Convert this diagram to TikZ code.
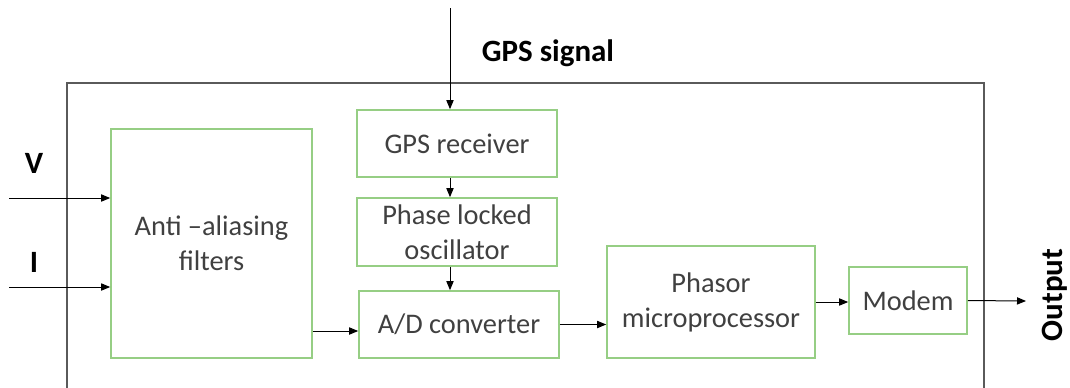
\documentclass[tikz,border=0pt]{standalone}
\usepackage{fontspec}
\setmainfont{Carlito}
\usetikzlibrary{arrows.meta}
\definecolor{boxgreen}{RGB}{150,206,132}
\definecolor{boxtext}{RGB}{64,64,64}
\definecolor{framegray}{RGB}{90,90,90}

\begin{document}
\begin{tikzpicture}[x=0.5pt, y=-0.5pt, font=\fontsize{14.2}{17.5}\selectfont,
  blk/.style={draw=boxgreen, line width=0.8pt, rectangle, align=center, text=boxtext, inner sep=2pt},
  lbl/.style={font=\fontsize{15.5}{18}\selectfont\bfseries, text=black, inner sep=0pt},
  sig/.style={-{Triangle[length=4.5pt, width=3.6pt]}, line width=0.5pt},
  frame/.style={draw=framegray, line width=0.8pt, rectangle, minimum width=458.5pt, minimum height=158.5pt}]
\useasboundingbox (0,0) rectangle (1070,387);
\clip (0,0) rectangle (1070,387);
\node[frame] (pmu) at (525.5,241.5) {};
\node[blk, minimum width=100.5pt, minimum height=114.5pt] (aa) at (211.5,243.5) {Anti \textendash aliasing\\filters};
\node[blk, minimum width=100pt, minimum height=33.5pt] (rx) at (457,143.5) {GPS receiver};
\node[blk, minimum width=100pt, minimum height=34pt] (plo) at (457,232) {Phase locked\\oscillator};
\node[blk, minimum width=100pt, minimum height=33.5pt] (ad) at (459,324.5) {A/D converter};
\node[blk, minimum width=104pt, minimum height=56pt] (ph) at (711,302) {Phasor\\microprocessor};
\node[blk, minimum width=59pt, minimum height=33.5pt] (mod) at (908,300.5) {Modem};
\node[lbl] (gpslbl) at (548,53) {GPS signal};
\node[lbl] (vlbl) at (34,163) {V};
\node[lbl] (ilbl) at (34,262) {I};
\node[lbl, rotate=90] (outlbl) at (1055,295) {Output};
\coordinate (gps) at (450,8);
\coordinate (vin) at (9,198);
\coordinate (iin) at (9,287);
\coordinate (out) at (1026,301);
\draw[sig] (gps) -- (gps |- rx.north);
\draw[sig] (gps |- rx.south) -- (gps |- plo.north);
\draw[sig] (gps |- plo.south) -- (gps |- ad.north);
\draw[sig] (vin) -- (vin -| aa.west);
\draw[sig] (iin) -- (iin -| aa.west);
\draw[sig] ([yshift=-3.25pt]ad.west -| aa.east) -- ([yshift=-3.25pt]ad.west);
\draw[sig] (ad.east) -- (ad.east -| ph.west);
\draw[sig] (ph.east) -- (ph.east -| mod.west);
\draw[sig] (mod.east) -- (out);
\end{tikzpicture}
\end{document}
